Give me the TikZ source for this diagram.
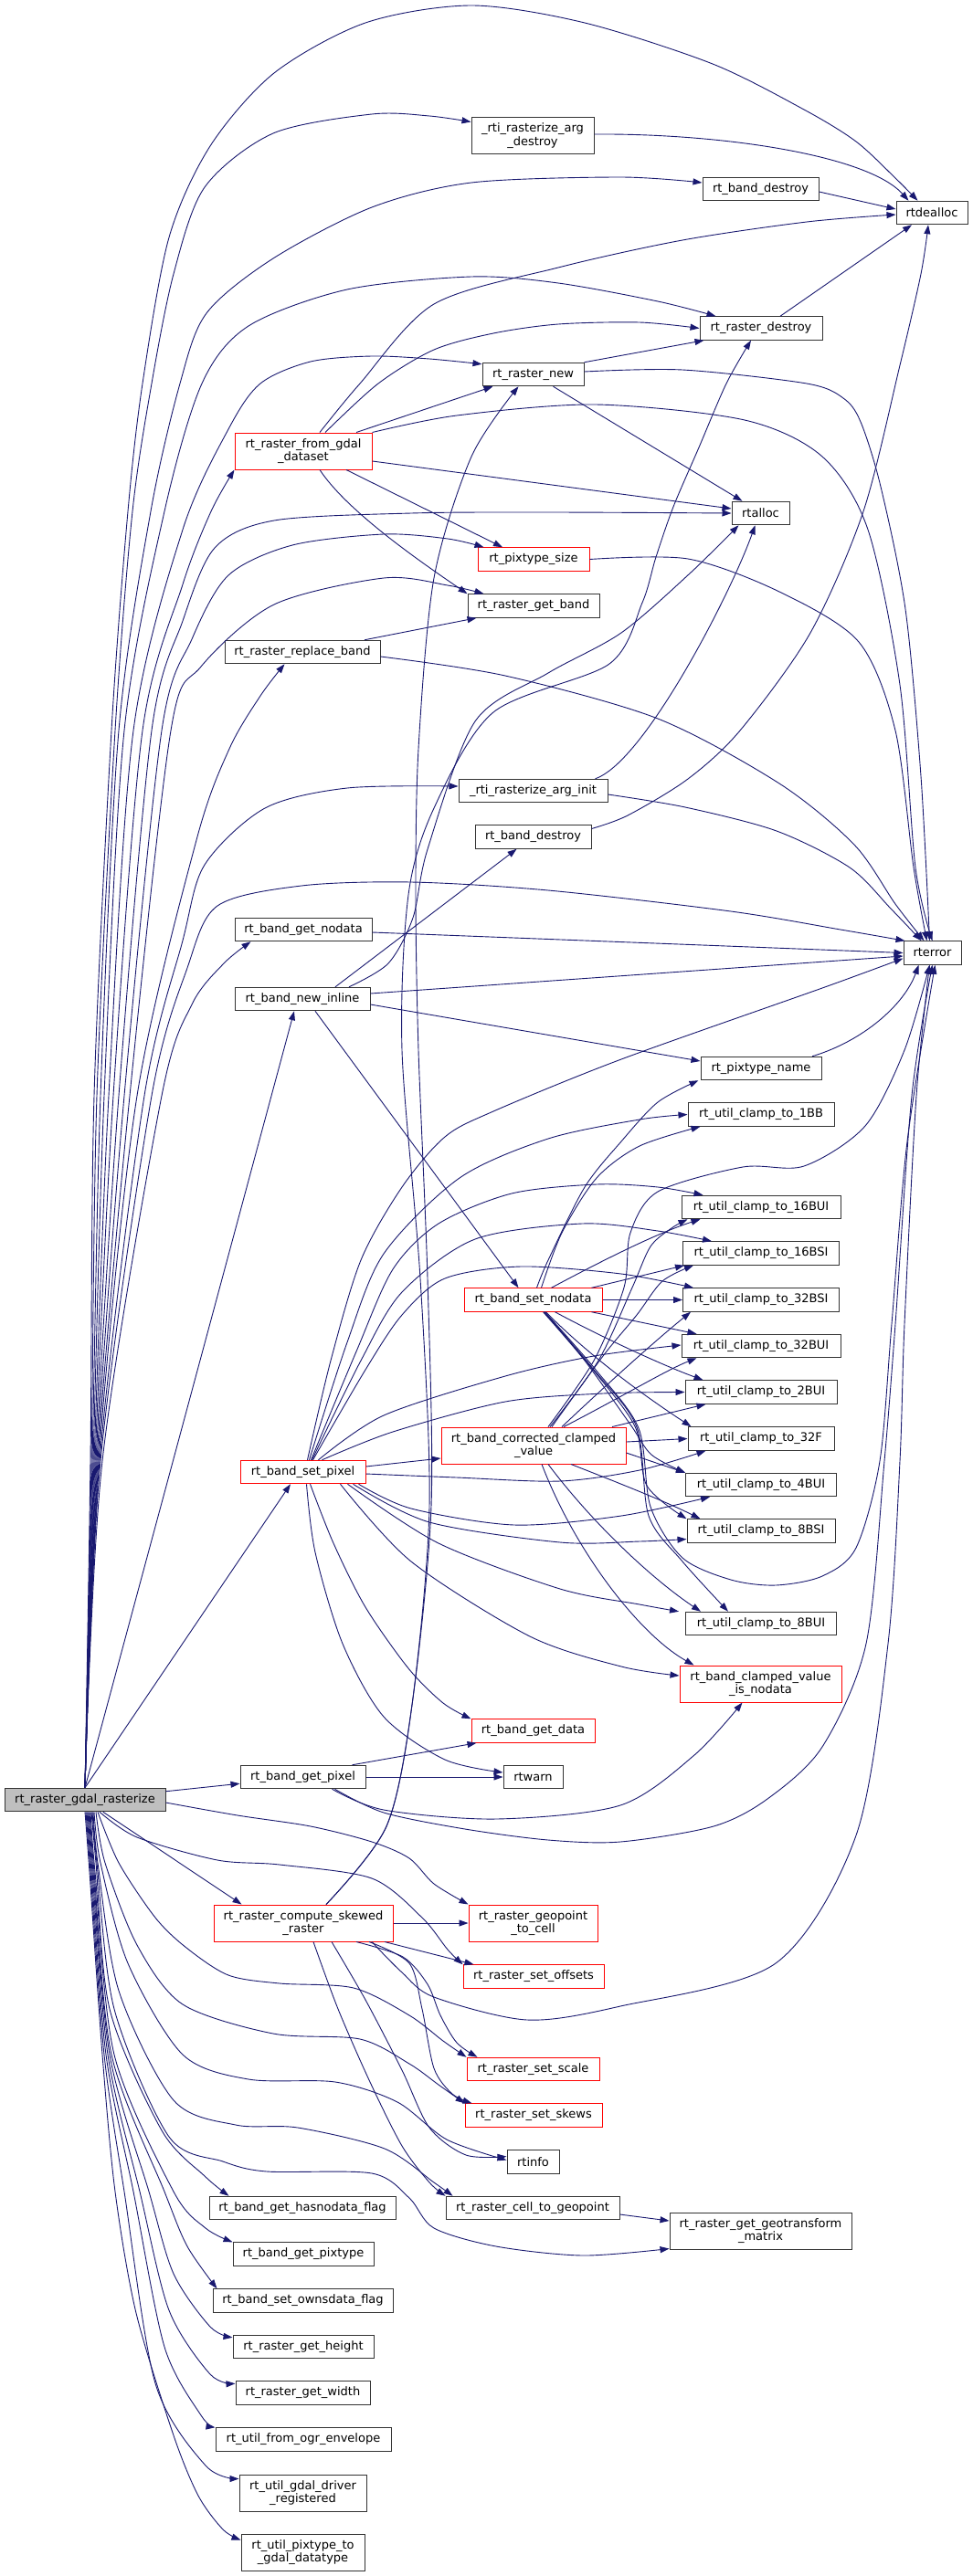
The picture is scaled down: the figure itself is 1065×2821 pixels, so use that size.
\documentclass[tikz,border=0pt]{standalone}
\usepackage{fontspec}
\newfontfamily\dotfont{DejaVu Sans}
\usepackage{tikz}
\usetikzlibrary{arrows.meta}
\usepackage{xcolor}
\definecolor{EdgeBlue}{HTML}{191970}
\definecolor{RootGray}{HTML}{BFBFBF}
\definecolor{BoxLine}{HTML}{333333}
\tikzset{
  fn/.style={rectangle, draw=BoxLine, line width=1pt, fill=white, inner xsep=3pt, inner ysep=0pt,
    minimum height=25.5pt, align=center, font=\dotfont\fontsize{13}{14.7}\selectfont},
  fntwo/.style={minimum height=40pt},
  fntrunc/.style={fn, draw=red},
  fnroot/.style={fn, fill=RootGray},
  call/.style={draw=EdgeBlue, line width=0.9pt, -{Triangle[length=10pt,width=7pt]}}
}

\begin{document}
\begin{tikzpicture}[x=1pt, y=-1pt]
   \fill[white] (0,0) rectangle (1065,2821);
   \node[fn, minimum width=78pt] (dealloc) at (1020,233) {rtdealloc};
   \node[fn, fntwo, minimum width=134pt] (argdestroy) at (583,148.5) {\_rti\_rasterize\_arg\\\_destroy};
   \node[fn, minimum width=127pt] (banddestroyA) at (832.5,207) {rt\_band\_destroy};
   \node[fn, minimum width=134pt] (rasterdestroy) at (833,359.5) {rt\_raster\_destroy};
   \node[fn, minimum width=111pt] (rasternew) at (583.5,410) {rt\_raster\_new};
   \node[fntrunc, fntwo, minimum width=150pt] (fromgdal) at (332,494) {rt\_raster\_from\_gdal\\\_dataset};
   \node[fn, minimum width=63pt] (alloc) at (832.5,562) {rtalloc};
   \node[fntrunc, minimum width=122pt] (pixtypesize) at (584,612.5) {rt\_pixtype\_size};
   \node[fn, minimum width=144pt] (getband) at (584,663.5) {rt\_raster\_get\_band};
   \node[fn, minimum width=170pt] (replaceband) at (331,714) {rt\_raster\_replace\_band};
   \node[fn, minimum width=163pt] (arginit) at (583.5,866) {\_rti\_rasterize\_arg\_init};
   \node[fn, minimum width=127pt] (banddestroyB) at (583.5,916.5) {rt\_band\_destroy};
   \node[fn, minimum width=150pt] (getnodata) at (332,1018) {rt\_band\_get\_nodata};
   \node[fn, minimum width=63pt] (rterror) at (1020.5,1043.5) {rterror};
   \node[fn, minimum width=148pt] (newinline) at (331,1094) {rt\_band\_new\_inline};
   \node[fn, minimum width=132pt] (pixtypename) at (833,1170) {rt\_pixtype\_name};
   \foreach \sfx/\yy/\ww in {1BB/1220.5/160, 16BUI/1322/174, 16BSI/1372.5/171, 32BSI/1423.5/171,
     32BUI/1474/174, 2BUI/1524.5/166, 32F/1575.5/160, 4BUI/1626/165, 8BSI/1676.5/162, 8BUI/1778/165} {
     \node[fn, minimum width=\ww pt] (c\sfx) at (833,\yy) {rt\_util\_clamp\_to\_\sfx};
   }
   \node[fntrunc, minimum width=151pt] (setnodata) at (583.5,1423.5) {rt\_band\_set\_nodata};
   \node[fntrunc, fntwo, minimum width=202pt] (corrected) at (584,1583) {rt\_band\_corrected\_clamped\\\_value};
   \node[fntrunc, minimum width=137pt] (setpixel) at (331.5,1612) {rt\_band\_set\_pixel};
   \node[fntrunc, fntwo, minimum width=177pt] (isnodata) at (832.5,1844) {rt\_band\_clamped\_value\\\_is\_nodata};
   \node[fntrunc, minimum width=135pt] (getdata) at (583.5,1895.5) {rt\_band\_get\_data};
   \node[fn, minimum width=65pt] (rtwarn) at (583.5,1946) {rtwarn};
   \node[fn, minimum width=137pt] (getpixel) at (331.5,1946) {rt\_band\_get\_pixel};
   \node[fnroot, minimum width=176pt] (root) at (93,1971) {rt\_raster\_gdal\_rasterize};
   \node[fntrunc, fntwo, minimum width=196pt] (skewed) at (332,2106) {rt\_raster\_compute\_skewed\\\_raster};
   \node[fntrunc, fntwo, minimum width=141pt] (geopoint) at (583.5,2106) {rt\_raster\_geopoint\\\_to\_cell};
   \node[fntrunc, minimum width=154pt] (setoffsets) at (584,2164.5) {rt\_raster\_set\_offsets};
   \node[fntrunc, minimum width=145pt] (setscale) at (583.5,2266) {rt\_raster\_set\_scale};
   \node[fntrunc, minimum width=150pt] (setskews) at (584,2316.5) {rt\_raster\_set\_skews};
   \node[fn, minimum width=57pt] (rtinfo) at (583.5,2367.5) {rtinfo};
   \node[fn, minimum width=204pt] (hasnodata) at (331,2418) {rt\_band\_get\_hasnodata\_flag};
   \node[fn, minimum width=190pt] (celltogeo) at (583,2418) {rt\_raster\_cell\_to\_geopoint};
   \node[fn, fntwo, minimum width=199pt] (geotransform) at (832.5,2443) {rt\_raster\_get\_geotransform\\\_matrix};
   \node[fn, minimum width=154pt] (getpixtype) at (332,2468.5) {rt\_band\_get\_pixtype};
   \node[fn, minimum width=197pt] (ownsdata) at (331.5,2519.5) {rt\_band\_set\_ownsdata\_flag};
   \node[fn, minimum width=154pt] (getheight) at (332,2570) {rt\_raster\_get\_height};
   \node[fn, minimum width=147pt] (getwidth) at (331.5,2620.5) {rt\_raster\_get\_width};
   \node[fn, minimum width=192pt] (ogrenv) at (332,2671.5) {rt\_util\_from\_ogr\_envelope};
   \node[fn, fntwo, minimum width=139pt] (driverreg) at (331.5,2730) {rt\_util\_gdal\_driver\\\_registered};
   \node[fn, fntwo, minimum width=135pt] (todatatype) at (331.5,2795) {rt\_util\_pixtype\_to\\\_gdal\_datatype};

   \draw[call] plot[smooth] coordinates {(root.north) (99,1600) (103,1200) (122,800) (140,560) (156,420) (185,260) (230,160) (300,80) (400,25) (516,6) (640,25) (780,70) (880,120) (937,155) (980,195) ([xshift=24pt]dealloc.north west)};
   \draw[call] plot[smooth] coordinates {(root.north) (100,1600) (106,1200) (126,800) (145,560) (166,420) (190,300) (224,205) (299,146) (407,125) (470,127) ([yshift=15pt]argdestroy.west)};
   \draw[call] plot[smooth] coordinates {(root.north) (101,1600) (110,1200) (130,800) (165,560) (197,420) (226,343) (299,283) (407,227) (516,200) (679,194) ([yshift=7pt]banddestroyA.west)};
   \draw[call] plot[smooth] coordinates {(root.north) (102,1600) (114,1200) (136,800) (180,560) (221,420) (272,357) (380,317) (516,303) (611,310) (720,330) ([xshift=18pt]rasterdestroy.north west)};
   \draw[call] plot[smooth] coordinates {(root.north) (103,1600) (119,1200) (146,800) (200,580) (250,470) (285,420) (340,396) (407,390) (470,393) ([yshift=-2pt]rasternew.north west)};
   \draw[call] plot[smooth] coordinates {(root.north) (104,1600) (124,1200) (156,800) (200,640) (231,560) (fromgdal.south west)};
   \draw[call] plot[smooth] coordinates {(root.north) (105,1600) (130,1200) (166,800) (200,680) (235,600) (300,570) (450,562) (600,561) (alloc.west)};
   \draw[call] plot[smooth] coordinates {(root.north) (106,1600) (136,1200) (177,800) (210,700) (250,630) (320,597) (420,585) (490,590) ([xshift=7pt]pixtypesize.north west)};
   \draw[call] plot[smooth] coordinates {(root.north) (107,1600) (142,1200) (187,800) (220,730) (300,662) (420,633) (490,641) ([xshift=18pt]getband.north west)};
   \draw[call] plot[smooth] coordinates {(root.north) (108,1600) (150,1200) (215,920) (251,820) (285,762) ([xshift=66pt]replaceband.south west)};
   \draw[call] plot[smooth] coordinates {(root.north) (109,1600) (158,1200) (200,1030) (224,947) (290,885) (380,863) ([yshift=5pt]arginit.west)};
   \draw[call] plot[smooth] coordinates {(root.north) (110,1600) (166,1200) (205,1060) (238,992) (330,970) (450,966) (600,975) (800,998) (920,1018) ([xshift=2pt]rterror.north west)};
   \draw[call] plot[smooth] coordinates {(root.north) (112,1600) (177,1200) (210,1100) (245,1055) ([xshift=18pt]getnodata.south west)};
   \draw[call] (root.north) -- ([xshift=-9pt]newinline.south);
   \draw[call] (root.north) -- ([xshift=-13.5pt]setpixel.south);
   \draw[call] (root) -- (getpixel);
   \draw[call] plot[smooth] coordinates {([yshift=-3pt]root.east) (260,1988) (340,2000) (407,2017) (448,2035) (475,2063) (geopoint.north west)};
   \draw[call] (root) -- ([xshift=31pt]skewed.north west);
   \draw[call] plot[smooth] coordinates {([xshift=16pt]root.south) (150,2012) (238,2037) (306,2042) (407,2057) (462,2100) (490,2135) (setoffsets.north west)};
   \draw[call] plot[smooth] coordinates {([xshift=14pt]root.south) (130,2040) (170,2100) (204,2133) (250,2163) (306,2172) (387,2177) (448,2207) (485,2235) (setscale.north west)};
   \draw[call] plot[smooth] coordinates {([xshift=12pt]root.south) (115,2040) (150,2130) (200,2195) (299,2227) (394,2233) (448,2260) (480,2283) (setskews.north west)};
   \draw[call] plot[smooth] coordinates {([xshift=10pt]root.south) (110,2040) (140,2150) (200,2250) (272,2277) (367,2280) (435,2302) (489,2343) ([yshift=2pt]rtinfo.west)};
   \draw[call] plot[smooth] coordinates {([xshift=9pt]root.south) (107,2040) (130,2180) (190,2300) (258,2327) (326,2330) (421,2353) (475,2390) ([xshift=8pt]celltogeo.north west)};
   \draw[call] plot[smooth] coordinates {([xshift=8pt]root.south) (106,2040) (125,2200) (185,2340) (244,2367) (292,2378) (407,2380) (448,2407) (475,2440) (543,2460) (638,2470) ([yshift=1pt]geotransform.south west)};
   \draw[call] plot[smooth] coordinates {([xshift=7pt]root.south) (105,2040) (120,2200) (177,2333) (224,2383) ([xshift=22pt]hasnodata.north west)};
   \draw[call] plot[smooth] coordinates {([xshift=6pt]root.south) (104,2050) (125,2250) (190,2400) (225,2440) (getpixtype.north west)};
   \draw[call] plot[smooth] coordinates {([xshift=5pt]root.south) (103,2050) (122,2250) (180,2400) (205,2460) ([xshift=5pt]ownsdata.north west)};
   \draw[call] plot[smooth] coordinates {([xshift=4pt]root.south) (102,2050) (120,2250) (163,2400) (190,2490) (230,2548) ([yshift=-3pt]getheight.north west)};
   \draw[call] plot[smooth] coordinates {([xshift=3pt]root.south) (101,2050) (118,2250) (153,2400) (185,2530) (230,2600) ([yshift=-3pt]getwidth.north west)};
   \draw[call] plot[smooth] coordinates {([xshift=2pt]root.south) (100,2050) (116,2250) (146,2400) (180,2570) (220,2645) (ogrenv.north west)};
   \draw[call] plot[smooth] coordinates {([xshift=1pt]root.south) (99,2050) (114,2250) (136,2400) (170,2610) (225,2700) ([yshift=-5pt]driverreg.north west)};
   \draw[call] plot[smooth] coordinates {(root.south) (98,2050) (112,2250) (126,2400) (149,2533) (190,2667) (217,2733) (244,2770) ([yshift=-7pt]todatatype.north west)};

   \draw[call] ([yshift=1.5pt]argdestroy.east) .. controls (790,146) and (950,170) .. ([xshift=14pt]dealloc.north west);
   \draw[call] ([yshift=-3pt]banddestroyA.east) -- ([yshift=4pt]dealloc.west);
   \draw[call] ([xshift=21pt]rasterdestroy.north) -- ([xshift=-22pt]dealloc.south);
   \draw[call] plot[smooth] coordinates {([yshift=9pt]banddestroyB.east) (687,893) (753,853) (810,800) (887,693) (945,560) (985,400) (1008,300) ([xshift=-4pt]dealloc.south)};
   \draw[call] plot[smooth] coordinates {([xshift=18pt]fromgdal.north) (394,420) (475,333) (611,293) (747,263) (883,243) ([yshift=-2pt]dealloc.west)};
   \draw[call] plot[smooth] coordinates {([xshift=24pt]fromgdal.north) (414,420) (475,383) (540,365) (611,355) (700,353) (rasterdestroy.west)};
   \draw[call] ([xshift=58pt]fromgdal.north) -- ([xshift=12pt]rasternew.south west);
   \draw[call] plot[smooth] coordinates {(fromgdal.north east) (500,455) (652,443) (815,460) (900,500) (950,580) (985,750) (1002,950) (rterror.north)};
   \draw[call] ([yshift=-11pt]fromgdal.east) -- ([yshift=5pt]alloc.west);
   \draw[call] ([xshift=47pt]fromgdal.south) -- ([xshift=-34pt]pixtypesize.north);
   \draw[call] ([xshift=18pt]fromgdal.south) .. controls (380,560) and (460,615) .. (getband.north west);
   \draw[call] (rasternew.north east) -- ([xshift=5pt]rasterdestroy.south west);
   \draw[call] ([xshift=22pt]rasternew.south) -- ([xshift=-20pt]alloc.north);
   \draw[call] plot[smooth] coordinates {([yshift=3pt]rasternew.east) (747,405) (883,420) (923,436) (942,462) (964,533) (991,667) (1008,850) ([xshift=-3pt]rterror.north)};
   \draw[call] plot[smooth] coordinates {([xshift=51pt]newinline.north) (425,1055) (452,1005) (468,930) (520,790) (600,737) (680,693) (755,628) ([xshift=-24pt]alloc.south)};
   \draw[call] ([xshift=68pt]arginit.north) .. controls (705,835) and (800,650) .. ([xshift=-6pt]alloc.south);
   \draw[call] plot[smooth] coordinates {(pixtypesize.east) (753,612) (853,648) (940,703) (980,800) (1000,950) ([xshift=-6pt]rterror.north)};
   \draw[call] ([xshift=68pt]replaceband.north) -- ([xshift=10pt]getband.south west);
   \draw[call] plot[smooth] coordinates {([yshift=-5pt]replaceband.east) (553,740) (720,787) (853,858) (935,925) (980,990) ([xshift=-9pt]rterror.north)};
   \draw[call] plot[smooth] coordinates {([yshift=-4pt]arginit.east) (750,884) (850,910) (930,950) (975,995) ([xshift=-12pt]rterror.north)};
   \draw[call] ([yshift=-3pt]getnodata.east) -- (rterror.west);
   \draw[call] ([yshift=6pt]newinline.east) -- ([yshift=-3.5pt]rterror.west);
   \draw[call] ([yshift=-6pt]newinline.east) -- ([yshift=8pt]pixtypename.west);
   \draw[call] ([xshift=14pt]newinline.south) -- ([xshift=-16pt]setnodata.north);
   \draw[call] ([xshift=36pt]newinline.north) -- ([xshift=-18pt]banddestroyB.south);
   \draw[call] ([xshift=56pt]pixtypename.north) .. controls (945,1140) and (990,1100) .. ([xshift=-15pt]rterror.south);

   \draw[call] plot[smooth] coordinates {([xshift=4pt]setnodata.north) (600,1380) (640,1300) (680,1250) (720,1207) ([xshift=-2pt]pixtypename.south west)};
   \draw[call] plot[smooth] coordinates {([xshift=9pt]setnodata.north) (615,1350) (653,1290) (700,1255) ([xshift=14pt]c1BB.south west)};
   \draw[call] ([xshift=20pt]setnodata.north) .. controls (660,1380) and (720,1350) .. ([xshift=21pt]c16BUI.south west);
   \draw[call] ([xshift=64pt]setnodata.north) -- ([xshift=2pt]c16BSI.south west);
   \draw[call] (setnodata) -- (c32BSI);
   \draw[call] ([xshift=64pt]setnodata.south) -- ([xshift=17pt]c32BUI.north west);
   \draw[call] ([xshift=24pt]setnodata.south) .. controls (660,1465) and (725,1495) .. ([xshift=20pt]c2BUI.north west);
   \draw[call] ([xshift=14pt]setnodata.south) .. controls (650,1490) and (715,1535) .. ([xshift=4pt]c32F.north west);
   \draw[call] plot[smooth] coordinates {([xshift=11pt]setnodata.south) (640,1490) (690,1560) (713,1593) (c4BUI.north west)};
   \draw[call] plot[smooth] coordinates {([xshift=12pt]setnodata.south) (645,1495) (695,1562) (708,1627) (c8BSI.north west)};
   \draw[call] plot[smooth] coordinates {([xshift=12.5pt]setnodata.south) (650,1500) (697,1563) (710,1660) (747,1710) ([xshift=47pt]c8BUI.north west)};
   \draw[call] plot[smooth] coordinates {([xshift=13pt]setnodata.south) (652,1500) (699,1564) (712,1650) (747,1706) (800,1730) (849,1736) (900,1726) (937,1695) (963,1600) (976,1450) (993,1250) ([xshift=3pt]rterror.south)};

   \draw[call] plot[smooth] coordinates {([xshift=16pt]corrected.north) (650,1490) (683,1410) (690,1350) (720,1305) (813,1278) (880,1277) (947,1233) (990,1150) ([xshift=-3pt]rterror.south)};
   \draw[call] plot[smooth] coordinates {([xshift=18pt]corrected.north) (655,1490) (692,1410) (712,1365) (735,1345) ([xshift=7pt]c16BUI.south west)};
   \draw[call] plot[smooth] coordinates {([xshift=20pt]corrected.north) (660,1485) (697,1440) (725,1403) ([xshift=12pt]c16BSI.south west)};
   \draw[call] ([xshift=31pt]corrected.north) .. controls (660,1520) and (715,1470) .. ([xshift=9pt]c32BSI.south west);
   \draw[call] ([xshift=33pt]corrected.north) .. controls (680,1530) and (730,1500) .. ([xshift=17pt]c32BUI.south west);
   \draw[call] ([xshift=86pt]corrected.north) -- ([xshift=23pt]c2BUI.south west);
   \draw[call] ([yshift=4pt]corrected.east) -- (c32F.west);
   \draw[call] ([yshift=-8pt]corrected.east) -- (c4BUI.north west);
   \draw[call] ([xshift=41pt]corrected.south) .. controls (680,1625) and (730,1645) .. ([xshift=15pt]c8BSI.north west);
   \draw[call] ([xshift=16pt]corrected.south) .. controls (650,1670) and (715,1730) .. ([xshift=17pt]c8BUI.north west);
   \draw[call] ([xshift=9pt]corrected.south) .. controls (630,1700) and (700,1790) .. ([xshift=16pt]isnodata.north west);

   \draw[call] plot[smooth] coordinates {([xshift=5pt]setpixel.north) (362,1490) (395,1380) (440,1300) (487,1245) (540,1217) (680,1160) (900,1082) ([yshift=-6pt]rterror.west)};
   \draw[call] plot[smooth] coordinates {([xshift=7pt]setpixel.north) (380,1470) (420,1373) (503,1290) (600,1247) (700,1226) (c1BB.west)};
   \draw[call] plot[smooth] coordinates {([xshift=9pt]setpixel.north) (390,1480) (430,1390) (480,1340) (560,1307) (653,1297) (720,1300) ([xshift=24pt]c16BUI.north west)};
   \draw[call] plot[smooth] coordinates {([xshift=10pt]setpixel.north) (395,1490) (440,1415) (520,1357) (637,1340) (720,1348) ([xshift=32pt]c16BSI.north west)};
   \draw[call] plot[smooth] coordinates {([xshift=11pt]setpixel.north) (400,1500) (440,1440) (487,1400) (570,1387) (680,1395) ([xshift=12pt]c32BSI.north west)};
   \draw[call] plot[smooth] coordinates {([xshift=17pt]setpixel.north) (420,1550) (553,1507) (650,1485) ([yshift=1pt]c32BUI.west)};
   \draw[call] plot[smooth] coordinates {([xshift=21pt]setpixel.north) (430,1568) (553,1535) (660,1526) (c2BUI.west)};
   \draw[call] ([yshift=6pt]setpixel.east) -- ([yshift=-14pt]corrected.west);
   \draw[call] plot[smooth] coordinates {([yshift=-2pt]setpixel.east) (500,1618) (613,1622) (700,1610) ([xshift=20pt]c32F.south west)};
   \draw[call] plot[smooth] coordinates {([xshift=-8pt]setpixel.south east) (450,1652) (563,1670) (680,1660) ([xshift=27pt]c4BUI.south west)};
   \draw[call] plot[smooth] coordinates {([xshift=-14pt]setpixel.south east) (470,1667) (613,1689) (700,1688) ([yshift=-9pt]c8BSI.west)};
   \draw[call] plot[smooth] coordinates {([xshift=-20pt]setpixel.south east) (480,1690) (613,1740) (700,1757) ([xshift=-7pt]c8BUI.north west)};
   \draw[call] plot[smooth] coordinates {([xshift=-28pt]setpixel.south east) (450,1710) (580,1792) (680,1825) ([yshift=9pt]isnodata.west)};
   \draw[call] plot[smooth] coordinates {([xshift=8pt]setpixel.south) (365,1690) (400,1760) (447,1827) (485,1865) (getdata.north west)};
   \draw[call] plot[smooth] coordinates {([xshift=4pt]setpixel.south) (345,1700) (375,1800) (420,1880) (487,1927) ([yshift=5pt]rtwarn.west)};

   \draw[call] ([xshift=-15pt]getpixel.north east) -- ([xshift=6pt]getdata.south west);
   \draw[call] (getpixel) -- (rtwarn);
   \draw[call] plot[smooth] coordinates {([xshift=32pt]getpixel.south) (420,1982) (543,1992) (679,1977) (760,1922) ([xshift=-20pt]isnodata.south)};
   \draw[call] plot[smooth] coordinates {([xshift=35pt]getpixel.south) (420,1985) (509,2003) (600,2015) (679,2017) (781,2000) (840,1970) (900,1913) (948,1800) (968,1600) (980,1450) (998,1200) (rterror.south)};

   \draw[call] plot[smooth] coordinates {([xshift=25pt]skewed.north) (423,2000) (451,1867) (472,1650) (468,1400) (458,1150) (455,980) (458,820) (475,633) (516,500) ([xshift=-16pt]rasternew.south)};
   \draw[call] plot[smooth] coordinates {([xshift=25pt]skewed.north) (423,2000) (451,1867) (470,1650) (460,1400) (440,1150) (447,980) (475,885) (540,780) (667,727) (703,660) (718,610) (737,555) (765,490) (795,420) ([xshift=-11pt]rasterdestroy.south)};
   \draw[call] (skewed) -- (geopoint);
   \draw[call] ([xshift=89pt]skewed.south) -- ([xshift=12pt]setoffsets.north west);
   \draw[call] plot[smooth] coordinates {([xshift=58pt]skewed.south) (441,2143) (468,2173) (482,2207) (500,2237) ([xshift=12pt]setscale.north west)};
   \draw[call] plot[smooth] coordinates {([xshift=72pt]skewed.south) (448,2150) (462,2200) (475,2265) (495,2293) ([xshift=8pt]setskews.north west)};
   \draw[call] plot[smooth] coordinates {([xshift=31pt]skewed.south) (400,2190) (440,2267) (470,2330) (510,2360) ([yshift=6pt]rtinfo.west)};
   \draw[call] plot[smooth] coordinates {([xshift=11pt]skewed.south) (370,2200) (405,2280) (440,2350) (470,2390) (celltogeo.north west)};
   \draw[call] plot[smooth] coordinates {([xshift=75pt]skewed.south) (440,2160) (475,2187) (577,2212) (679,2197) (849,2150) (937,2010) (972,1800) (985,1600) (990,1450) (1003,1200) ([xshift=-3pt]rterror.south)};
   \draw[call] ([yshift=-7pt]celltogeo.east) -- ([yshift=11pt]geotransform.west);
\end{tikzpicture}
\end{document}
